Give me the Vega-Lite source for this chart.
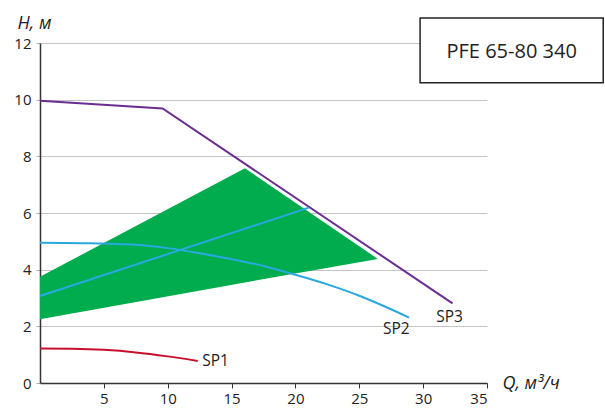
{
  "$schema": "https://vega.github.io/schema/vega-lite/v6.json",
  "width": 447,
  "height": 340,
  "autosize": {"type": "none"},
  "padding": {"left": 40, "top": 43, "right": 118, "bottom": 27},
  "background": "white",
  "config": {
    "view": {"stroke": null},
    "font": "Open Sans",
    "axis": {"labelFont": "Open Sans", "labelFontSize": 15, "labelColor": "#222", "titleFont": "Open Sans", "titleColor": "#222"}
  },
  "datasets": {
    "zone": [
      {"q": 0, "top": 3.75, "bot": 2.25},
      {"q": 16.05, "top": 7.58, "bot": 3.55},
      {"q": 26.45, "top": 4.38, "bot": 4.38}
    ],
    "straight": [
      {"curve": "SP3", "q": 0, "h": 9.96},
      {"curve": "SP3", "q": 9.6, "h": 9.69},
      {"curve": "SP3", "q": 32.3, "h": 2.81},
      {"curve": "sys", "q": 0, "h": 3.07},
      {"curve": "sys", "q": 21.06, "h": 6.19}
    ],
    "smooth": [
      {"curve": "SP2", "q": 0, "h": 4.95},
      {"curve": "SP2", "q": 4, "h": 4.93},
      {"curve": "SP2", "q": 7.8, "h": 4.87},
      {"curve": "SP2", "q": 10, "h": 4.76},
      {"curve": "SP2", "q": 12.5, "h": 4.58},
      {"curve": "SP2", "q": 15, "h": 4.37},
      {"curve": "SP2", "q": 17.5, "h": 4.13},
      {"curve": "SP2", "q": 20, "h": 3.82},
      {"curve": "SP2", "q": 22.5, "h": 3.48},
      {"curve": "SP2", "q": 25, "h": 3.08},
      {"curve": "SP2", "q": 27, "h": 2.7},
      {"curve": "SP2", "q": 28.9, "h": 2.31},
      {"curve": "SP1", "q": 0, "h": 1.22},
      {"curve": "SP1", "q": 2.5, "h": 1.21},
      {"curve": "SP1", "q": 5, "h": 1.17},
      {"curve": "SP1", "q": 7.5, "h": 1.08},
      {"curve": "SP1", "q": 10, "h": 0.94},
      {"curve": "SP1", "q": 12.35, "h": 0.78}
    ],
    "labels": [
      {"q": 13.74, "h": 0.79, "t": "SP1"},
      {"q": 27.9, "h": 1.9, "t": "SP2"},
      {"q": 32.07, "h": 2.34, "t": "SP3"}
    ],
    "box": [
      {"q1": 29.76, "q2": 44.1, "h1": 12.88, "h2": 10.6, "qc": 36.93, "hc": 11.69, "t": "PFE 65-80 340"}
    ]
  },
  "layer": [
    {
      "data": {"name": "zone"},
      "mark": {"type": "area", "color": "#00ac4e", "opacity": 1},
      "encoding": {
        "x": {
          "field": "q", "type": "quantitative",
          "scale": {"domain": [0, 35], "nice": false, "zero": false},
          "axis": {
            "values": [5, 10, 15, 20, 25, 30, 35],
            "grid": false,
            "domainColor": "#333", "domainWidth": 1.5,
            "tickColor": "#333", "tickSize": 5, "tickWidth": 1,
            "labelPadding": 3,
            "title": "Q, м³/ч",
            "titleFontStyle": "italic", "titleFontWeight": "normal", "titleFontSize": 18,
            "titleAlign": "left", "titleBaseline": "alphabetic",
            "titleX": 462, "titleY": 5
          }
        },
        "y": {
          "field": "top", "type": "quantitative",
          "scale": {"domain": [0, 12], "nice": false, "zero": false},
          "axis": {
            "values": [0, 2, 4, 6, 8, 10, 12],
            "grid": true, "gridColor": "#c4c4c4", "gridWidth": 1,
            "domainColor": "#333", "domainWidth": 1.5,
            "ticks": true, "tickColor": "#b0b0b0", "tickSize": 4, "labelPadding": 5,
            "title": "H, м",
            "titleAngle": 0,
            "titleFontStyle": "italic", "titleFontWeight": "normal", "titleFontSize": 18,
            "titleAlign": "left", "titleBaseline": "alphabetic",
            "titleX": -23, "titleY": -15
          }
        },
        "y2": {"field": "bot"}
      }
    },
    {
      "data": {"name": "smooth"},
      "mark": {"type": "line", "interpolate": "monotone", "strokeWidth": 2},
      "encoding": {
        "x": {"field": "q", "type": "quantitative"},
        "y": {"field": "h", "type": "quantitative"},
        "color": {"field": "curve", "type": "nominal", "scale": {"domain": ["SP1", "SP2", "SP3", "sys"], "range": ["#c8102e", "#29a8e0", "#6a2d91", "#29a8e0"]}, "legend": null}
      }
    },
    {
      "data": {"name": "straight"},
      "mark": {"type": "line", "interpolate": "linear", "strokeWidth": 2},
      "encoding": {
        "x": {"field": "q", "type": "quantitative"},
        "y": {"field": "h", "type": "quantitative"},
        "color": {"field": "curve", "type": "nominal", "scale": {"domain": ["SP1", "SP2", "SP3", "sys"], "range": ["#c8102e", "#29a8e0", "#6a2d91", "#29a8e0"]}, "legend": null}
      }
    },
    {
      "data": {"name": "labels"},
      "mark": {"type": "text", "fontSize": 15.5, "color": "#222", "align": "center", "baseline": "middle", "font": "Open Sans"},
      "encoding": {
        "x": {"field": "q", "type": "quantitative"},
        "y": {"field": "h", "type": "quantitative"},
        "text": {"field": "t"}
      }
    },
    {
      "data": {"name": "box"},
      "mark": {"type": "rect", "fill": "white", "stroke": "#222", "strokeWidth": 1.5},
      "encoding": {
        "x": {"field": "q1", "type": "quantitative"},
        "x2": {"field": "q2"},
        "y": {"field": "h1", "type": "quantitative"},
        "y2": {"field": "h2"}
      }
    },
    {
      "data": {"name": "box"},
      "mark": {"type": "text", "fontSize": 20, "color": "#222", "align": "center", "baseline": "middle", "font": "Open Sans"},
      "encoding": {
        "x": {"field": "qc", "type": "quantitative"},
        "y": {"field": "hc", "type": "quantitative"},
        "text": {"field": "t"}
      }
    }
  ]
}
